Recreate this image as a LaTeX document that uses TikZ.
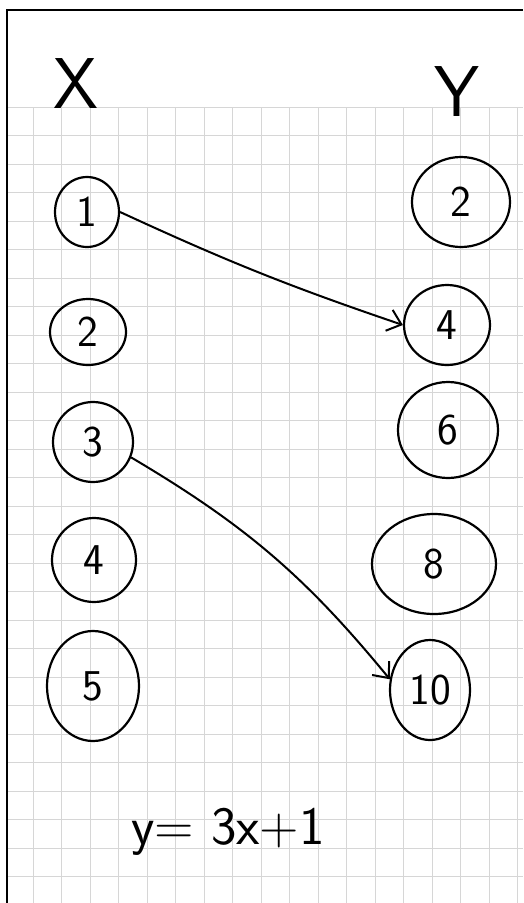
\documentclass[tikz,border=0pt]{standalone}
\usetikzlibrary{shapes.geometric,arrows.meta}
\tikzset{
  num/.style={ellipse, draw, line width=2.2pt, inner sep=0pt,
    font=\sffamily\fontsize{44}{50}\selectfont},
  head/.style={font=\sffamily\fontsize{72}{80}\selectfont},
  gridline/.style={black!16, line width=1pt},
  link/.style={line width=2pt, -{Straight Barb[length=13pt,width=22pt]}}
}
\begin{document}
\begin{tikzpicture}[x=1pt,y=-1pt]
  \useasboundingbox (0,0) rectangle (523,903);
  % squared paper
  \foreach \gx in {0,...,17} \draw[gridline] (33+28.5*\gx,107) -- (33+28.5*\gx,903);
  \foreach \gy in {0,...,27} \draw[gridline] (7,107+28.5*\gy) -- (523,107+28.5*\gy);
  \draw[line width=2.5pt] (7,903) -- (7,10) -- (523,10);
  % headings
  \node[head] (xlab) at (76,84) {X};
  \node[head] (ylab) at (457,92) {Y};
  % domain
  \node[num, minimum width=64, minimum height=70] (x1) at (87,212) {1};
  \node[num, minimum width=76, minimum height=66] (x2) at (88,332) {2};
  \node[num, minimum width=80, minimum height=80] (x3) at (93,442) {3};
  \node[num, minimum width=84, minimum height=84] (x4) at (94,560) {4};
  \node[num, minimum width=92, minimum height=110] (x5) at (93,686) {5};
  % codomain
  \node[num, minimum width=98, minimum height=90] (y2) at (461,202) {2};
  \node[num, minimum width=86, minimum height=80] (y4) at (447,325) {4};
  \node[num, minimum width=100, minimum height=96] (y6) at (448,430) {6};
  \node[num, minimum width=124, minimum height=100] (y8) at (434,564) {8};
  \node[num, minimum width=80, minimum height=100] (y10) at (430,690) {10};
  % mapping
  \draw[link] (x1.east) to[bend right=3] (y4.west);
  \draw[link] (x3.-22) to[bend left=10] (y10.165);
  \node[font=\sffamily\fontsize{54}{60}\selectfont] (rule) at (228,832) {y= 3x+1};
\end{tikzpicture}
\end{document}
